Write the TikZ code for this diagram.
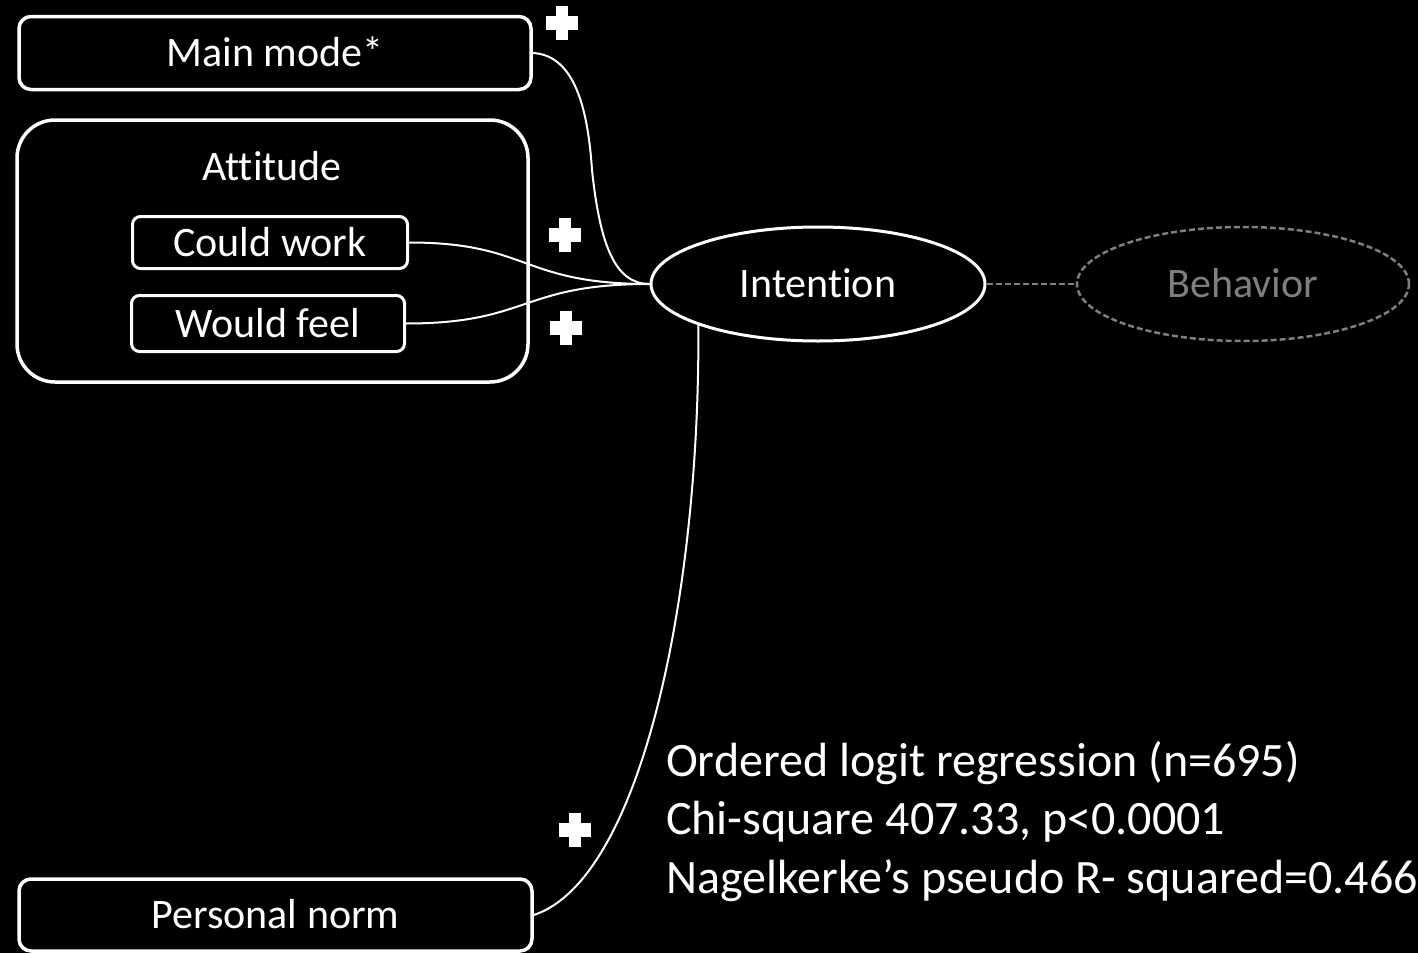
\documentclass[tikz,border=0pt]{standalone}
\usepackage{fontspec}
\setmainfont{Carlito}[Ligatures={NoCommon}]
\usetikzlibrary{shapes.geometric}
\definecolor{greytext}{HTML}{7F7F7F}
\tikzset{pics/plusmark/.style={code={
  \fill[white] (-16,-7) rectangle (16,7);
  \fill[white] (-6,-17) rectangle (6,17);}}}
\begin{document}
\begin{tikzpicture}[x=1pt,y=-1pt,
  lbl/.style={text=white, font=\fontsize{42}{50}\selectfont, text height=27pt, text depth=0pt, inner sep=0pt},
  box/.style={lbl, draw=white, line width=3.5pt, rounded corners=12pt},
  conn/.style={draw=white, line width=2pt},
  oval/.style={lbl, ellipse, draw=white, line width=3pt},
  greyoval/.style={lbl, ellipse, draw=greytext, text=greytext, line width=2.5pt, dash pattern=on 6pt off 3pt},
  greydash/.style={draw=greytext, line width=2.2pt, dash pattern=on 6pt off 3pt},
  stat/.style={anchor=base west, text=white, font=\fontsize{48}{58}\selectfont, inner sep=0pt}
]
\useasboundingbox (0,0) rectangle (1418,953);
\fill[black] (0,0) rectangle (1418,953);

\node[box, minimum width=512pt, minimum height=73pt] (main) at (275,53) {Main mode*};
\node[box, rounded corners=38pt, minimum width=511pt, minimum height=262pt] (att) at (272.5,251) {};
\node[lbl] (atttitle) at (272,167) {Attitude};
\node[box, line width=3pt, rounded corners=8pt, minimum width=275pt, minimum height=52pt] (cw) at (270,242.5) {Could work};
\node[box, line width=3pt, rounded corners=8pt, minimum width=273pt, minimum height=56pt] (wf) at (268,323.5) {Would feel};
\node[box, minimum width=513pt, minimum height=72pt] (pn) at (275.5,915) {Personal norm};

\node[oval, minimum width=334pt, minimum height=114pt] (intention) at (818,284) {Intention};
\node[greyoval, minimum width=332pt, minimum height=114pt] (behavior) at (1243,284) {Behavior};

\draw[conn] (main.east) .. controls (575,55) and (588,110) .. (592,170) .. controls (600,245) and (615,284) .. (intention.west);
\draw[conn] (cw.east) .. controls (530,242.5) and (520,284) .. (intention.west);
\draw[conn] (wf.east) .. controls (530,323.5) and (520,284) .. (intention.west);
\draw[conn] (pn.east) .. controls (640,880) and (700,600) .. (intention.199);
\draw[greydash] (intention.east) -- (behavior.west);

\pic at (562,23) {plusmark};
\pic at (565,235) {plusmark};
\pic at (566,328) {plusmark};
\pic at (575,830) {plusmark};

\node[stat] (s1) at (666,776) {Ordered logit regression (n=695)};
\node[stat] (s2) at (666,834) {Chi-square 407.33, p<0.0001};
\node[stat] (s3) at (666,893) {Nagelkerke’s pseudo R- squared=0.466};
\end{tikzpicture}
\end{document}
